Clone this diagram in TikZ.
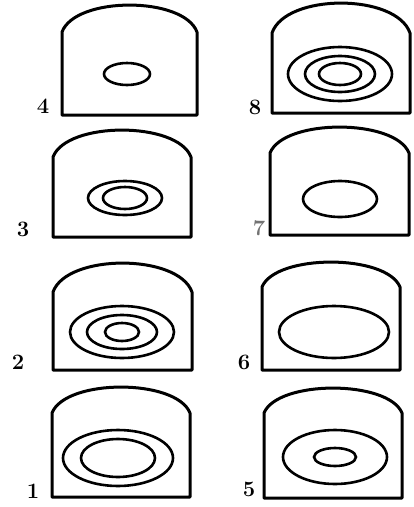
\documentclass[tikz,border=0pt]{standalone}
\begin{document}
\begin{tikzpicture}[x=1pt,y=-1pt,
  outline/.style={line width=3pt,line join=round,line cap=round},
  ring/.style={line width=2.6pt},
  numlabel/.style={font=\fontsize{22}{22}\selectfont\bfseries,inner sep=0pt}]
\useasboundingbox (0,0) rectangle (414,507);
% panel macro: #1 left, #2 right, #3 top, #4 shoulder, #5 bottom
\newcommand\fingerpanel[5]{%
  \draw[outline] (#1,#4) -- (#1,#5) -- (#2,#5) -- (#2,#4)
    .. controls ({#2-0.1*(#2-#1)},{#4-1.33*(#4-#3)}) and ({#1+0.1*(#2-#1)},{#4-1.33*(#4-#3)}) .. cycle;}
% panel 4
\fingerpanel{62}{197}{5}{32}{115}
\draw[ring] (127,74) ellipse [x radius=23,y radius=11];
\node[numlabel] (l4) at (43,106) {4};
% panel 8
\fingerpanel{272}{410}{3}{33}{113}
\draw[ring] (340,74) ellipse [x radius=52,y radius=27];
\draw[ring] (340,74) ellipse [x radius=35,y radius=18];
\draw[ring] (340,74) ellipse [x radius=21,y radius=11];
\node[numlabel] (l8) at (255,107) {8};
% panel 3
\fingerpanel{53}{191}{130}{157}{237}
\draw[ring] (125,198) ellipse [x radius=37,y radius=17];
\draw[ring] (125,198) ellipse [x radius=22,y radius=11];
\node[numlabel] (l3) at (23,229) {3};
% panel 7
\fingerpanel{270}{409}{127}{153}{235}
\draw[ring] (340,199) ellipse [x radius=37,y radius=18];
\node[numlabel,text=black!55] (l7) at (259,228) {7};
% panel 2
\fingerpanel{53}{192}{263}{292}{370}
\draw[ring] (122,332) ellipse [x radius=52,y radius=26];
\draw[ring] (122,332) ellipse [x radius=35,y radius=17];
\draw[ring] (122,332) ellipse [x radius=17,y radius=9];
\node[numlabel] (l2) at (18,362) {2};
% panel 6
\fingerpanel{262}{400}{262}{287}{370}
\draw[ring] (334,332) ellipse [x radius=55,y radius=26];
\node[numlabel] (l6) at (244,362) {6};
% panel 1
\fingerpanel{52}{190}{387}{413}{497}
\draw[ring] (118,458) ellipse [x radius=55,y radius=28];
\draw[ring] (118,458) ellipse [x radius=37,y radius=19];
\node[numlabel] (l1) at (33,491) {1};
% panel 5
\fingerpanel{264}{402}{388}{413}{498}
\draw[ring] (335,457) ellipse [x radius=52,y radius=27];
\draw[ring] (335,457) ellipse [x radius=21,y radius=9];
\node[numlabel] (l5) at (249,489) {5};
\end{tikzpicture}
\end{document}
